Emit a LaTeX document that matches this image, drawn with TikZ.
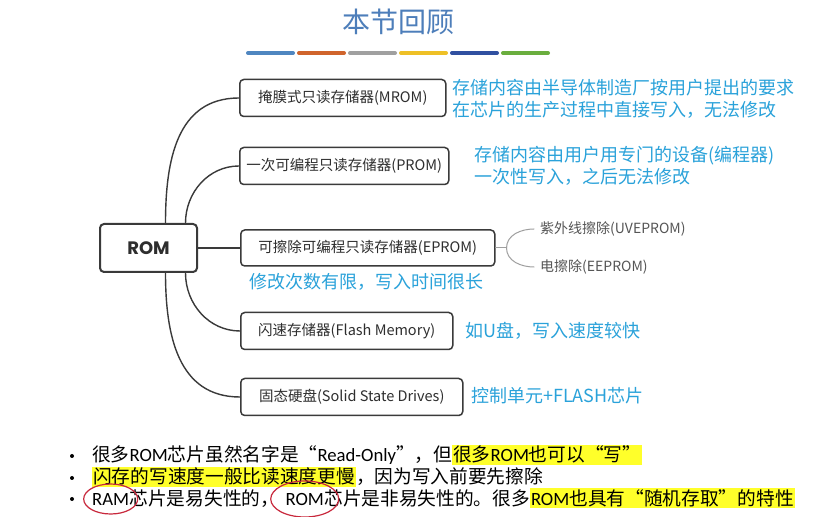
\documentclass[tikz,border=0pt]{standalone}
\usepackage{fontspec}
\setmainfont{Noto Sans CJK SC}
\newfontfamily\calfont{Carlito}
\newfontfamily\boxfont{Poppins}
\usetikzlibrary{positioning,calc}
\definecolor{ink}{HTML}{2E2E2E}
\definecolor{linegray}{HTML}{3A3A3A}
\definecolor{notecyan}{HTML}{2AA2DA}
\definecolor{titleblue}{HTML}{4D7EBA}
\definecolor{subtext}{HTML}{555555}
\definecolor{hlyellow}{HTML}{FFFF2A}
\definecolor{pen}{HTML}{C8283C}
\definecolor{barA}{HTML}{4F86C0}
\definecolor{barB}{HTML}{D0642C}
\definecolor{barC}{HTML}{A0A0A0}
\definecolor{barD}{HTML}{EEC026}
\definecolor{barE}{HTML}{3050A0}
\definecolor{barF}{HTML}{6AAE3E}
\newcommand{\latn}[1]{{\calfont #1}}
\newcommand{\marked}[1]{\colorbox{hlyellow}{#1}}
\setlength{\fboxsep}{1pt}

\begin{document}
\begin{tikzpicture}[x=1pt,y=1pt,line cap=round,every node/.style={font=\fontsize{14.5}{16}\selectfont,text=ink},box/.style={draw=linegray,line width=1.5pt,rounded corners=4pt,minimum height=37pt,anchor=west,inner xsep=0pt},note/.style={text=notecyan,font=\fontsize{18}{22}\selectfont,align=left,anchor=west,inner sep=0pt},link/.style={draw=linegray,line width=1.4pt},sublink/.style={draw=gray!75,line width=1pt},subnote/.style={text=subtext,font=\fontsize{14}{16}\selectfont,anchor=west,inner xsep=6pt,inner ysep=0pt},bline/.style={font=\fontsize{18.7}{20}\selectfont,text=black,inner sep=0pt,anchor=base west},circled/.style={draw=pen,line width=1.2pt},bar/.style={line width=4pt}]
\fill[white] (0,0) rectangle (818,516);
\path[use as bounding box] (0,0) rectangle (818,516);

\node[font=\fontsize{28}{30}\selectfont,text=titleblue] (title) at (398,494) {本节回顾};
\foreach \c [count=\i from 0] in {barA,barB,barC,barD,barE,barF} \draw[bar,\c] ({248+51*\i},463) -- ++(45,0);

\node[box,line width=2pt,minimum width=97pt,minimum height=48pt,anchor=center,font=\boxfont\bfseries\fontsize{18}{20}\selectfont] (rom) at (148.5,268) {ROM};
\node[box,minimum width=206pt] (mrom) at (239,418) {掩膜式只读存储器(MROM)};
\node[box,minimum width=209pt] (prom) at (239,350) {一次可编程只读存储器(PROM)};
\node[box,minimum width=254pt,minimum height=36pt] (eprom) at (240,268) {可擦除可编程只读存储器(EPROM)};
\node[box,minimum width=212pt] (flash) at (240,185) {闪速存储器(Flash Memory)};
\node[box,minimum width=222pt] (ssd) at (240,119) {固态硬盘(Solid State Drives)};

\draw[link] ([xshift=17pt]rom.north) to[out=90,in=180,looseness=1.1] (mrom.west);
\draw[link] ([xshift=37pt]rom.north) to[out=90,in=180] (prom.west);
\draw[link] (rom.east) -- (eprom.west);
\draw[link] ([xshift=37pt]rom.south) to[out=-90,in=180] (flash.west);
\draw[link] ([xshift=17pt]rom.south) to[out=-90,in=180,looseness=1.1] (ssd.west);

\node[note] (mnote) at (452,417) {存储内容由半导体制造厂按用户提出的要求\\在芯片的生产过程中直接写入，无法修改};
\node[note] (pnote) at (474,350) {存储内容由用户用专门的设备(编程器)\\一次性写入，之后无法修改};
\node[note] (enote) at (249,234) {修改次数有限，写入时间很长};
\node[note] (fnote) at (465,185) {如U盘，写入速度较快};
\node[note] (snote) at (471,120) {控制单元+FLASH芯片};

\node[subnote] (uv) at (534,287) {紫外线擦除(UVEPROM)};
\node[subnote] (ee) at (534,249) {电擦除(EEPROM)};
\draw[sublink] (eprom.east) -- ++(11,0) coordinate (fork);
\draw[sublink] (fork) to[out=90,in=180] (uv.west);
\draw[sublink] (fork) to[out=-90,in=180] (ee.west);

\node[bline] (b1) at (92,54) {很多\latn{ROM}芯片虽然名字是“\latn{Read-Only}”，但\marked{很多\latn{ROM}也可以“写”}};
\node[bline] (b2) at (92,32) {\marked{闪存的写速度一般比读速度更慢}，因为写入前要先擦除};
\node[bline] (ram) at (92,11) {\latn{RAM}};
\node[bline,base right=0pt of ram] (b3a) {芯片是易失性的，};
\node[bline,base right=6pt of b3a] (rom2) {\latn{ROM}};
\node[bline,base right=0pt of rom2] (b3b) {芯片是非易失性的。很多\marked{\latn{ROM}也具有“随机存取”的特性}};
\foreach \n in {b1,b2,ram} \fill ($(\n.base west)+(-20,6)$) circle (2);
\draw[circled] (ram.center) ellipse [x radius=27,y radius=15];
\draw[circled] (rom2.center) ellipse [x radius=34,y radius=18];

\end{tikzpicture}
\end{document}
